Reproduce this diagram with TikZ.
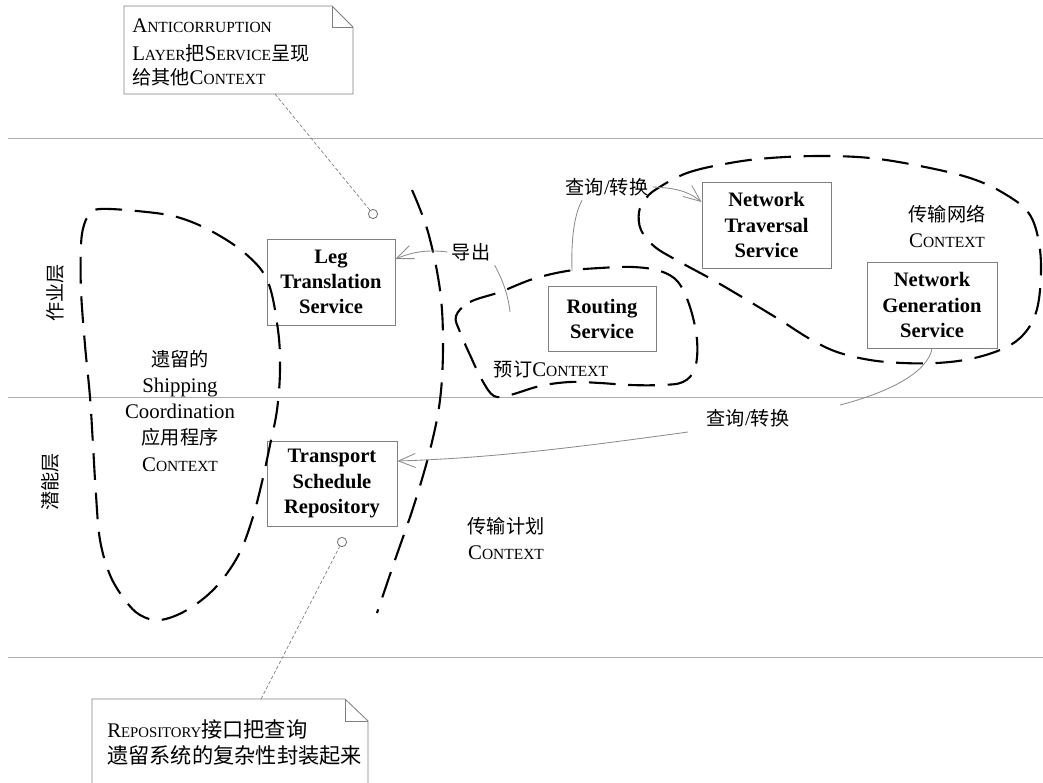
\documentclass[tikz,border=0pt]{standalone}
\usepackage{fontspec}
\setmainfont{Liberation Serif}
\newfontfamily\cjk{Noto Sans CJK SC}[Scale=0.92]
\usetikzlibrary{arrows.meta}
\newcommand\fsc[2]{#1{\fontsize{11pt}{11pt}\selectfont #2}}
\newcommand\fscb[2]{{\fontsize{14.8pt}{18.5pt}\selectfont #1}{\fontsize{10.5pt}{10.5pt}\selectfont #2}}
\begin{document}
\begin{tikzpicture}[x=0.025cm,y=-0.025cm,
  lane/.style={draw=black!32,line width=0.7pt},
  svc/.style={draw=black!50,line width=0.6pt,inner sep=0pt,align=center,font=\bfseries\fontsize{14.6pt}{17.8pt}\selectfont},
  bound/.style={draw=black,line width=1.5pt,dash pattern=on 19pt off 9pt},
  conn/.style={draw=black!45,line width=0.6pt},
  arr/.style={conn,-{Straight Barb[length=12pt,width=10pt]}},
  lbl/.style={inner sep=3pt,align=center,font=\fontsize{14.8pt}{18.5pt}\selectfont},
  notetxt/.style={inner sep=0pt,align=left,anchor=west,font=\fontsize{14.8pt}{18.5pt}\selectfont},
  notebox/.style={draw=black!50,line width=0.6pt},
  leader/.style={draw=black!50,line width=0.5pt,dash pattern=on 2.5pt off 1.5pt},
  hole/.style={circle,draw=black!55,line width=0.6pt,fill=white,inner sep=0pt,minimum size=0.23cm}
]
\useasboundingbox (0,0) rectangle (1043,782);

% layer lines
\draw[lane] (8,138) -- (1043,138);
\draw[lane] (8,397) -- (1043,397);
\draw[lane] (8,657) -- (1043,657);

% layer labels
\node[lbl,rotate=90] (op) at (55,293) {\cjk 作业层};
\node[lbl,rotate=90] (pot) at (50,482) {\cjk 潜能层};

% service boxes
\node[svc,minimum width=3.2cm,minimum height=2.15cm] (leg) at (331,282) {Leg\\Translation\\Service};
\node[svc,minimum width=3.25cm,minimum height=2.125cm] (tsr) at (332,483.5) {Transport\\Schedule\\Repository};
\node[svc,minimum width=2.7cm,minimum height=1.625cm] (rout) at (602,318.5) {Routing\\Service};
\node[svc,minimum width=3.225cm,minimum height=2.15cm] (trav) at (766.5,225) {Network\\Traversal\\Service};
\node[svc,minimum width=3.25cm,minimum height=2.15cm] (gen) at (932,305) {Network\\Generation\\Service};

% context boundaries
\draw[bound] plot[smooth cycle,tension=0.6] coordinates {(100,209) (137,211) (177,217) (213,232) (247,255) (268,282) (278,330) (280,370) (277,410) (270,445) (262,482) (252,520) (238,556) (215,588) (187,610) (160,620) (140,615) (125,600) (110,575) (100,540) (96,495) (93,445) (90,397) (85,345) (81,290) (81,245) (84,225) (90,214)};
\draw[bound] plot[smooth,tension=0.6] coordinates {(412,190) (428,232) (440,290) (443,345) (440,400) (430,450) (414,505) (395,560) (377,613)};
\draw[bound] plot[smooth cycle,tension=0.6] coordinates {(456,316) (470,302) (500,292) (533,279) (567,271) (600,268) (633,267) (660,271) (678,282) (690,307) (697,340) (695,368) (683,382) (660,385) (630,385) (600,383) (570,382) (540,386) (510,395) (494,396) (482,380) (470,355) (460,332)};
\draw[bound] plot[smooth cycle,tension=0.6] coordinates {(655,190) (687,173) (730,163) (770,158) (820,156) (870,158) (920,166) (970,178) (1005,194) (1030,215) (1040,250) (1040,290) (1034,318) (1020,338) (1000,350) (970,359) (937,363) (903,363) (870,360) (837,352) (810,339) (780,320) (747,300) (713,280) (680,262) (655,247) (641,230) (639,212) (645,200)};

% context labels
\node[lbl] (legacy) at (180,411) {{\cjk 遗留的}\\Shipping\\Coordination\\{\cjk 应用程序}\\\fsc{C}{ONTEXT}};
\node[lbl] (netctx) at (947,226) {{\cjk 传输网络}\\\fsc{C}{ONTEXT}};
\node[lbl] (planctx) at (506,539) {{\cjk 传输计划}\\\fsc{C}{ONTEXT}};
\node[lbl] (bookctx) at (551,369) {{\cjk 预订}\fsc{C}{ONTEXT}};

% connector labels
\node[lbl] (ex) at (471,252) {\cjk 导出};
\node[lbl] (q1) at (607,187) {{\cjk 查询}/{\cjk 转换}};
\node[lbl] (q2) at (748,418) {{\cjk 查询}/{\cjk 转换}};

% connectors
\coordinate (rin) at (510,312);
\coordinate (rtop) at (572,271);
\coordinate (q2r) at (840,405);
\coordinate (q2l) at (688,432);
\draw[conn] (ex.south east) .. controls (500,275) and (508,292) .. (rin);
\draw[arr] (ex.west) .. controls (425,249) and (410,253) .. (leg.east |- 0,259);
\draw[conn] (rtop) .. controls (571,240) and (574,215) .. (q1.south -| 582,0);
\draw[arr] (q1.east) .. controls (680,188) and (690,193) .. (trav.west |- 0,202);
\draw[conn] (gen.south) .. controls (928,372) and (890,392) .. (q2r);
\draw[arr] (q2l) .. controls (600,444) and (500,458) .. (tsr.east |- 0,461);

% top note
\draw[notebox] (124,6) -- (332,6) -- (353,27) -- (353,94) -- (124,94) -- cycle;
\draw[notebox] (332,6) |- (353,27);
\node[notetxt] (n1a) at (132,26) {\fsc{A}{NTICORRUPTION}};
\node[notetxt] (n1b) at (132,53) {\fsc{L}{AYER}{\cjk 把}\fsc{S}{ERVICE}{\cjk 呈现}};
\node[notetxt] (n1c) at (132,77) {{\cjk 给其他}\fsc{C}{ONTEXT}};
\coordinate (n1tail) at (275,94);
\node[hole] (h1) at (373,214) {};
\draw[leader] (n1tail) -- (h1);

% bottom note
\draw[notebox] (92,800) -- (92,699) -- (345,699) -- (368,721) -- (368,800);
\draw[notebox] (345,699) |- (368,721);
\node[notetxt,font=\fontsize{16.4pt}{18.5pt}\selectfont] (n2a) at (107,729) {\fscb{R}{EPOSITORY}{\cjk 接口把查询}};
\node[notetxt,font=\fontsize{16.4pt}{18.5pt}\selectfont] (n2b) at (107,755) {\cjk 遗留系统的复杂性封装起来};
\coordinate (n2tail) at (261,699);
\node[hole] (h2) at (342,542) {};
\draw[leader] (n2tail) -- (h2);
\end{tikzpicture}
\end{document}
